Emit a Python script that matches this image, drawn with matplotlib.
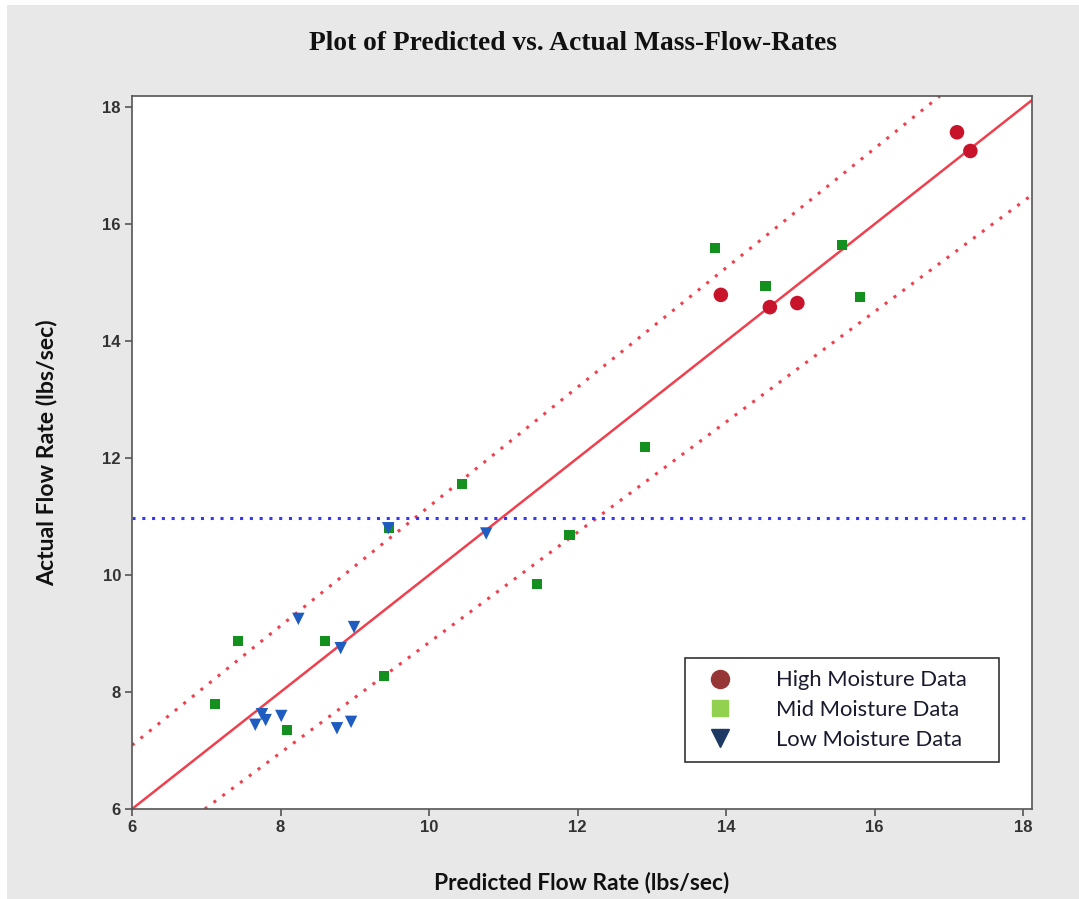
import matplotlib
matplotlib.use("Agg")
import matplotlib.pyplot as plt
from matplotlib.lines import Line2D
from matplotlib.patches import Rectangle

# ---- data ----
high_x = [17.11, 17.29, 13.93, 14.59, 14.96]
high_y = [17.57, 17.25, 14.79, 14.58, 14.65]

mid_x = [13.85, 14.53, 15.56, 15.80, 12.91, 11.89, 11.45, 10.44, 9.46, 7.43, 8.60, 9.39, 7.12, 8.09]
mid_y = [15.59, 14.94, 15.64, 14.75, 12.19, 10.68, 9.85, 11.56, 10.80, 8.87, 8.87, 8.27, 7.79, 7.35]

low_x = [9.45, 8.24, 8.99, 8.81, 7.75, 7.80, 7.66, 8.01, 8.76, 8.95, 10.77]
low_y = [10.80, 9.25, 9.11, 8.75, 7.62, 7.52, 7.44, 7.59, 7.38, 7.49, 10.71]

fit_x = [6.0, 18.12]
fit_y = [6.0, 18.12]
upper_x = [6.0, 16.88]
upper_y = [7.09, 18.19]
lower_x = [6.98, 18.12]
lower_y = [6.0, 16.50]
mean_actual = 10.97

xticks = [6, 8, 10, 12, 14, 16, 18]
yticks = [6, 8, 10, 12, 14, 16, 18]
legend_labels = ["High Moisture Data", "Mid Moisture Data", "Low Moisture Data"]

# ---- figure ----
fig = plt.figure(figsize=(10.79, 8.99), dpi=100)
fig.patch.set_facecolor("white")
fig.add_artist(Rectangle((7/1079, 0), 1 - 7/1079, 1 - 5/899, transform=fig.transFigure,
                         facecolor="#E8E8E8", edgecolor="none", zorder=-10))

ax = fig.add_axes([132/1079, 1 - 809/899, 900/1079, 713/899])
ax.set_facecolor("white")
ax.set_xlim(6, 18.12)
ax.set_ylim(6, 18.19)

red = "#F0404E"
ax.plot(fit_x, fit_y, color=red, lw=1.8, zorder=2)
ax.plot(upper_x, upper_y, color=red, lw=2.2, ls=(0, (1, 2.6)), zorder=2)
ax.plot(lower_x, lower_y, color=red, lw=2.2, ls=(0, (1, 2.6)), zorder=2)
ax.axhline(mean_actual, color="#3535F5", lw=2.2, ls=(0, (1, 2.2)), zorder=2)

ax.scatter(high_x, high_y, s=110, marker="o", color="#C8142A", edgecolors="none", zorder=4)
ax.scatter(mid_x, mid_y, s=55, marker="s", color="#14901E", edgecolors="none", zorder=4)
ax.scatter(low_x, low_y, s=80, marker="v", color="#1E5CC0", edgecolors="none", zorder=4)

ax.set_xticks(xticks)
ax.set_yticks(yticks)
for sp in ax.spines.values():
    sp.set_color("#555555")
    sp.set_linewidth(1.2)
ax.tick_params(direction="out", length=5, width=1.2, color="#555555",
               labelsize=12, labelcolor="#333333", pad=3)
for lab in ax.get_xticklabels() + ax.get_yticklabels():
    lab.set_fontfamily("Liberation Sans")
    lab.set_fontweight("bold")

ax.set_xlabel("Predicted Flow Rate (lbs/sec)", fontfamily="Lato", fontweight="bold",
              fontsize=16.4, color="#111111", labelpad=26)
ax.set_ylabel("Actual Flow Rate (lbs/sec)", fontfamily="Lato", fontweight="bold",
              fontsize=16.6, color="#111111", labelpad=32)

fig.text(573/1079, 1 - 43/899, "Plot of Predicted vs. Actual Mass-Flow-Rates",
         ha="center", va="center", fontfamily="Liberation Serif", fontweight="bold",
         fontsize=19.8, color="#111111")

handles = [
    Line2D([], [], marker="o", ls="none", color="#963636", markersize=13),
    Line2D([], [], marker="s", ls="none", color="#92D050", markersize=12),
    Line2D([], [], marker="v", ls="none", color="#1E3A64", markersize=13),
]
leg = ax.legend(handles, legend_labels, loc="lower left",
                bbox_to_anchor=((685 - 132) / 900, (809 - 762) / 713, (999 - 685) / 900, (762 - 653) / 713),
                mode="expand", fancybox=False, framealpha=1, edgecolor="#333333",
                prop={"family": "Lato", "size": 15.8}, handletextpad=1.5, borderpad=0.55,
                labelspacing=0.45, handlelength=2.1, borderaxespad=0)
leg.get_frame().set_linewidth(1.2)
for t in leg.get_texts():
    t.set_color("#1A1A2E")

fig.savefig("out.png", dpi=100)
